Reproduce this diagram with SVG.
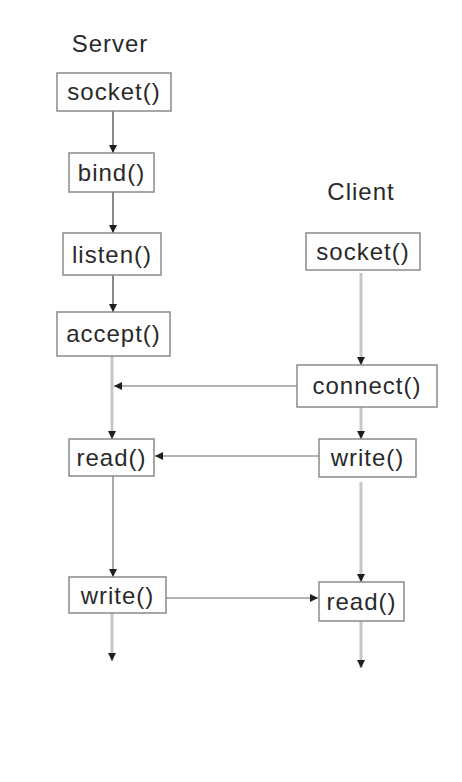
<svg xmlns="http://www.w3.org/2000/svg" width="462" height="782" viewBox="0 0 462 782">
<style>
.box{fill:#fff;stroke:#8a8a8a;stroke-width:1.5}
.t{font-family:"Liberation Sans",Arial,sans-serif;font-size:24px;fill:#2a2a2a;text-anchor:middle;letter-spacing:1px}
.dk{stroke:#4a4a4a;stroke-width:1.3;fill:none}
.md{stroke:#7a7a7a;stroke-width:1.3;fill:none}
.lt{stroke:#c6c6c6;stroke-width:3;fill:none}
.hz{stroke:#9a9a9a;stroke-width:1.6;fill:none}
</style>
<defs>
<marker id="ah" markerUnits="userSpaceOnUse" markerWidth="10" markerHeight="10" viewBox="0 0 10 10" refX="9" refY="5" orient="auto">
<path d="M1,1 L9,5 L1,9 z" fill="#1e1e1e"/>
</marker>
</defs>
<rect width="462" height="782" fill="#fff"/>
<text class="t" x="110" y="52">Server</text>
<text class="t" x="361" y="200">Client</text>
<g id="connectors">
<line class="dk" x1="113" y1="111" x2="113" y2="153" marker-end="url(#ah)"/>
<line class="dk" x1="113" y1="192" x2="113" y2="233" marker-end="url(#ah)"/>
<line class="dk" x1="113" y1="275" x2="113" y2="312" marker-end="url(#ah)"/>
<line class="lt" x1="112" y1="356" x2="112" y2="439" marker-end="url(#ah)"/>
<line class="hz" x1="297" y1="386" x2="114" y2="386" marker-end="url(#ah)"/>
<line class="lt" x1="361" y1="273" x2="361" y2="365" marker-end="url(#ah)"/>
<line class="lt" x1="361" y1="407" x2="361" y2="439" marker-end="url(#ah)"/>
<line class="hz" x1="319" y1="456" x2="155" y2="456" marker-end="url(#ah)"/>
<line class="md" x1="113" y1="476" x2="113" y2="577" marker-end="url(#ah)"/>
<line class="lt" x1="361" y1="482" x2="361" y2="582" marker-end="url(#ah)"/>
<line class="hz" x1="166" y1="598" x2="318" y2="598" marker-end="url(#ah)"/>
<line class="lt" x1="112" y1="613" x2="112" y2="661" marker-end="url(#ah)"/>
<line class="lt" x1="361" y1="621" x2="361" y2="668" marker-end="url(#ah)"/>
</g>
<g id="server-socket"><rect class="box" x="57" y="73" width="114" height="38"/><text class="t" x="114" y="100">socket()</text></g>
<g id="server-bind"><rect class="box" x="69" y="153" width="85" height="39"/><text class="t" x="111.5" y="181">bind()</text></g>
<g id="server-listen"><rect class="box" x="63" y="233" width="98" height="42"/><text class="t" x="112" y="263">listen()</text></g>
<g id="server-accept"><rect class="box" x="57" y="312" width="113" height="44"/><text class="t" x="113.5" y="342">accept()</text></g>
<g id="server-read"><rect class="box" x="69" y="439" width="85" height="37"/><text class="t" x="111.5" y="466">read()</text></g>
<g id="server-write"><rect class="box" x="69" y="577" width="97" height="36"/><text class="t" x="117.5" y="604">write()</text></g>
<g id="client-socket"><rect class="box" x="306" y="233" width="114" height="37"/><text class="t" x="363" y="260">socket()</text></g>
<g id="client-connect"><rect class="box" x="297" y="365" width="140" height="42"/><text class="t" x="367" y="394">connect()</text></g>
<g id="client-write"><rect class="box" x="319" y="439" width="97" height="38"/><text class="t" x="367.5" y="466">write()</text></g>
<g id="client-read"><rect class="box" x="319" y="582" width="85" height="39"/><text class="t" x="361.5" y="610">read()</text></g>
</svg>
